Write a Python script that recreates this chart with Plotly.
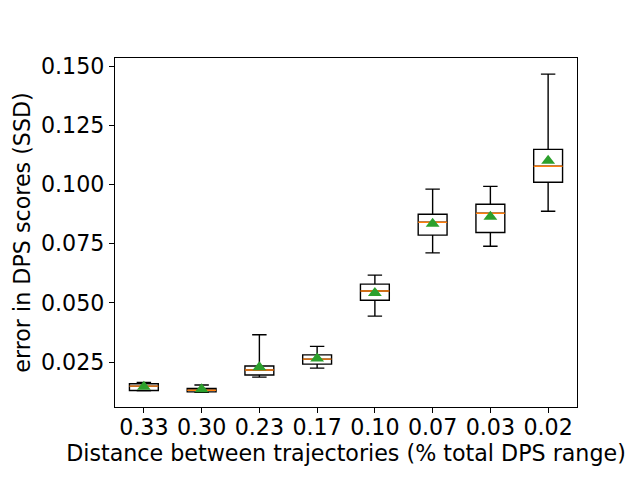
import plotly.graph_objects as go

# distance labels (categories) and box statistics
distances = ["0.33", "0.30", "0.23", "0.17", "0.10", "0.07", "0.03", "0.02"]
lower_whisker = [0.0128, 0.0122, 0.0186, 0.0224, 0.0444, 0.0711, 0.0739, 0.0887]
q1 = [0.0130, 0.0124, 0.0195, 0.0241, 0.0511, 0.0786, 0.0797, 0.1009]
median = [0.0148, 0.0131, 0.0216, 0.0262, 0.0550, 0.0840, 0.0878, 0.1077]
q3 = [0.0158, 0.0138, 0.0233, 0.0280, 0.0579, 0.0874, 0.0916, 0.1148]
upper_whisker = [0.0164, 0.0153, 0.0365, 0.0316, 0.0617, 0.0980, 0.0992, 0.1466]
means = [0.0146, 0.0135, 0.0228, 0.0265, 0.0541, 0.0834, 0.0864, 0.1100]

y_ticks = [0.025, 0.050, 0.075, 0.100, 0.125, 0.150]

font = dict(family="DejaVu Sans", size=22.2, color="black")

fig = go.Figure()

# boxes and whiskers
fig.add_trace(go.Box(
    x=distances, q1=q1, median=median, q3=q3,
    lowerfence=lower_whisker, upperfence=upper_whisker,
    width=0.5, whiskerwidth=0.5,
    line=dict(color="black", width=1.4),
    fillcolor="rgba(255,255,255,0)",
    boxpoints=False, hoverinfo="skip", showlegend=False,
))

# orange median lines (flat boxes)
fig.add_trace(go.Box(
    x=distances, q1=median, median=median, q3=median,
    lowerfence=median, upperfence=median,
    width=0.5, whiskerwidth=0,
    line=dict(color="#ff7f0e", width=1.4),
    fillcolor="rgba(255,255,255,0)",
    boxpoints=False, hoverinfo="skip", showlegend=False,
))

# green triangle means
fig.add_trace(go.Scatter(
    x=distances, y=means, mode="markers",
    marker=dict(symbol="triangle-up", size=12, color="#2ca02c"),
    showlegend=False,
))

# page body has an 8px margin, so the figure is shrunk and shifted to match
fig.update_layout(
    width=632, height=472,
    margin=dict(l=107, r=63, t=50, b=73),
    paper_bgcolor="white", plot_bgcolor="white",
    font=font,
    boxmode="overlay",
)

fig.update_xaxes(
    type="category", range=[-0.5, 7.5],
    showline=True, mirror=True, linecolor="black", linewidth=1.2,
    ticks="outside", ticklen=5, tickcolor="black", showgrid=False,
    ticklabelstandoff=-5,
    title=dict(text="Distance between trajectories (% total DPS range)",
               font=font, standoff=0),
)
fig.update_yaxes(
    range=[0.0060, 0.1534], tickvals=y_ticks, tickformat=".3f",
    showline=True, mirror=True, linecolor="black", linewidth=1.2,
    ticks="outside", ticklen=5, tickcolor="black", showgrid=False,
    zeroline=False,
    title=dict(text="error in DPS scores (SSD)", font=font, standoff=4),
)

fig.write_html("out.html")
